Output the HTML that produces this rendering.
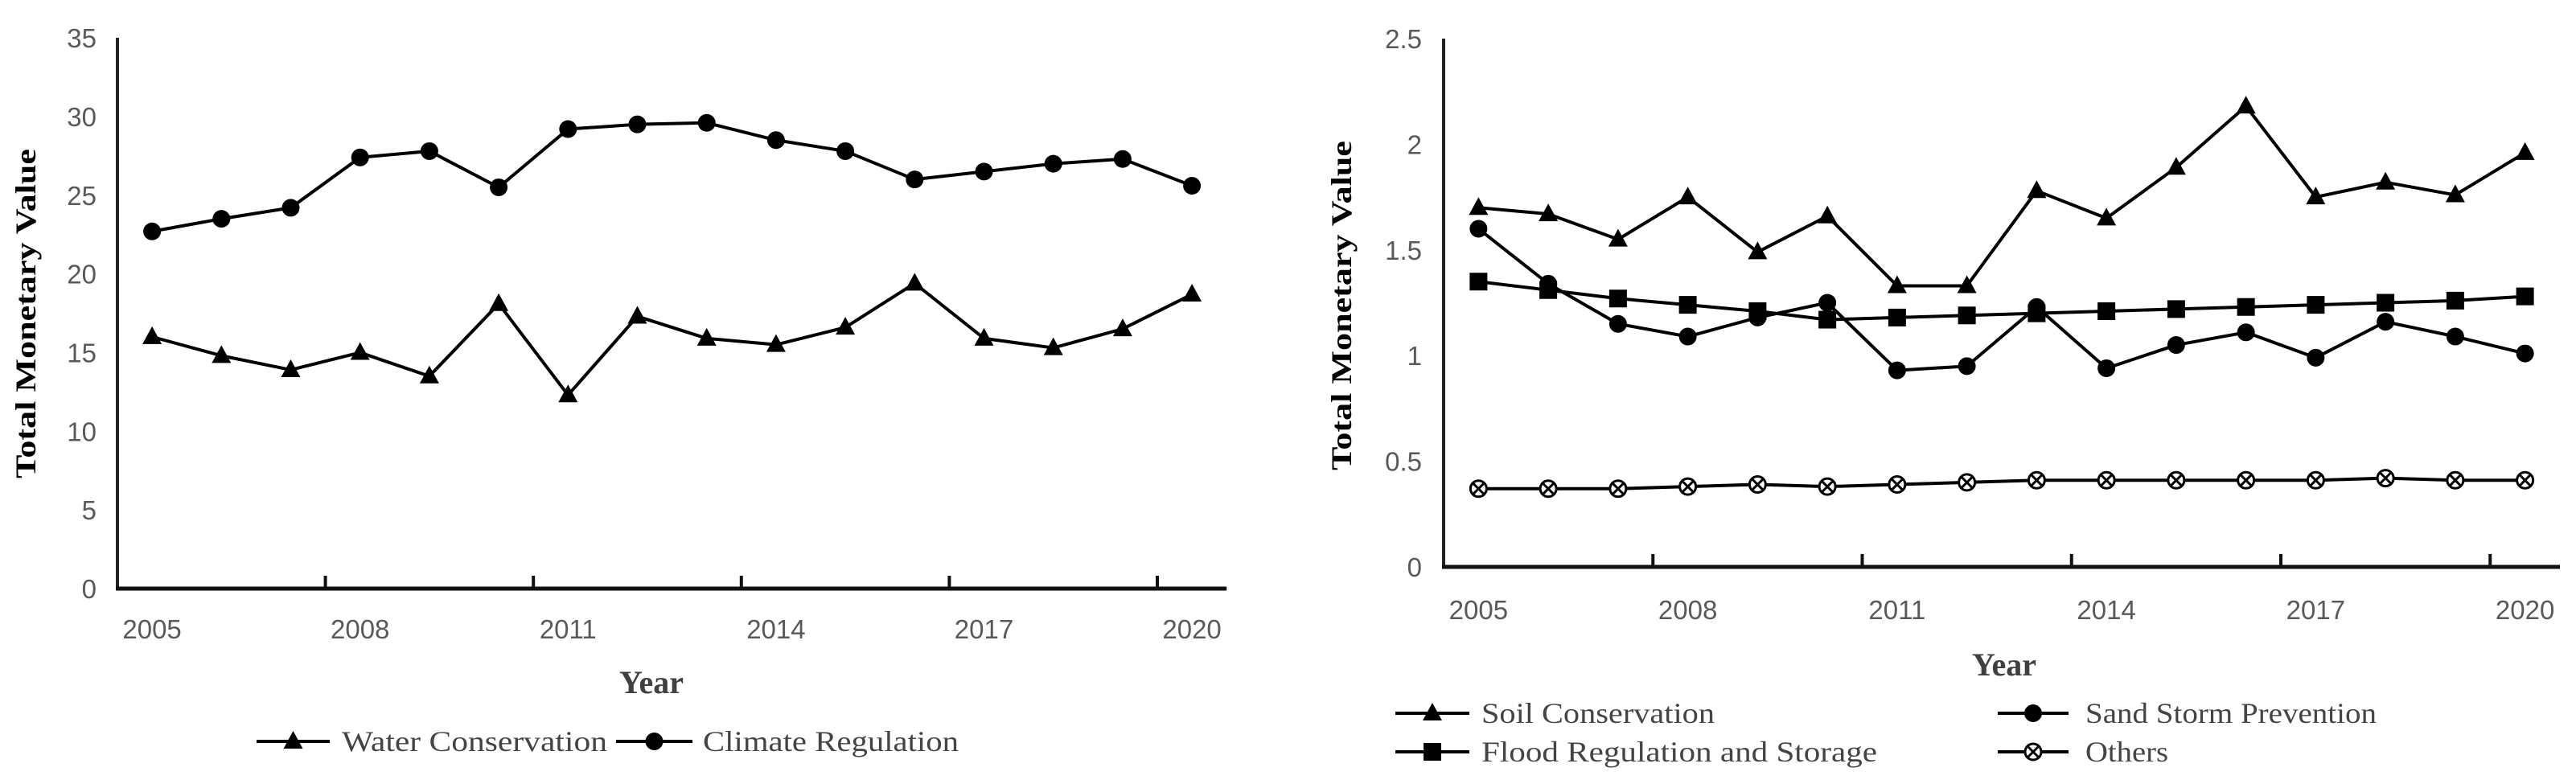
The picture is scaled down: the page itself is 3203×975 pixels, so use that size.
<!DOCTYPE html>
<html><head><meta charset="utf-8"><style>
body{margin:0;background:#fff;}
svg{display:block;}
</style></head><body>
<svg id="s" width="3203" height="975" xmlns="http://www.w3.org/2000/svg"></svg>
<script>
const years = ['2005','2006','2007','2008','2009','2010','2011','2012','2013','2014','2015','2016','2017','2018','2019','2020'];
const xTickLabels = ['2005','2008','2011','2014','2017','2020'];
const leftYTicks = [0,5,10,15,20,25,30,35];
const rightYTicks = ['0','0.5','1','1.5','2','2.5'];
const waterConservation = [16.0,14.8,13.9,15.0,13.5,18.1,12.3,17.3,15.9,15.5,16.6,19.4,15.9,15.3,16.5,18.7];
const climateRegulation = [22.7,23.5,24.2,27.4,27.8,25.5,29.2,29.5,29.6,28.5,27.8,26.0,26.5,27.0,27.3,25.6];
const soilConservation = [1.70,1.67,1.55,1.75,1.49,1.66,1.33,1.33,1.78,1.65,1.89,2.18,1.75,1.82,1.76,1.96];
const sandStorm = [1.60,1.34,1.15,1.09,1.18,1.25,0.93,0.95,1.23,0.94,1.05,1.11,0.99,1.16,1.09,1.01];
const floodRegulation = [1.35,1.31,1.27,1.24,1.21,1.17,1.18,1.19,1.20,1.21,1.22,1.23,1.24,1.25,1.26,1.28];
const others = [0.37,0.37,0.37,0.38,0.39,0.38,0.39,0.40,0.41,0.41,0.41,0.41,0.41,0.42,0.41,0.41];

const NS='http://www.w3.org/2000/svg';
const svg=document.getElementById('s');
function mk(tag,attrs,parent){const e=document.createElementNS(NS,tag);for(const k in attrs)e.setAttribute(k,attrs[k]);(parent||svg).appendChild(e);return e;}
function txt(str,attrs,parent){const e=mk('text',attrs,parent);e.textContent=str;return e;}

function marker(g,type,x,y){
  let m;
  if(type==='tri'){m=mk('polygon',{points:`${x},${y-13} ${x-12},${y+9} ${x+12},${y+9}`,fill:'#000'},g);}
  else if(type==='circ'){m=mk('circle',{cx:x,cy:y,r:11,fill:'#000'},g);}
  else if(type==='sq'){m=mk('rect',{x:x-11,y:y-11,width:22,height:22,fill:'#000'},g);}
  else {m=mk('g',{},g);
    mk('circle',{cx:x,cy:y,r:10,fill:'#fff',stroke:'#000','stroke-width':3},m);
    mk('path',{d:`M${x-7},${y-7}L${x+7},${y+7}M${x+7},${y-7}L${x-7},${y+7}`,stroke:'#000','stroke-width':3},m);}
  return m;
}

function chart(cfg){
  const g=mk('g',{});
  
  
  const X0=cfg.x0, cw=cfg.cw, Y0=cfg.y0, ppu=cfg.ppu;
  const xs=i=>X0+(i+0.5)*cw;
  const ys=v=>Y0-v*ppu;
  // y labels
  cfg.yTicks.forEach(t=>{
    const e=txt(String(t),{x:cfg.yLabX,y:ys(parseFloat(t))+12,'text-anchor':'end','font-family':'Liberation Sans, sans-serif','font-size':33,fill:'#595959'},g);
    
    
  });
  // axes
  const top=ys(parseFloat(cfg.yTicks[cfg.yTicks.length-1]));
  const ya=mk('line',{x1:X0,y1:top,x2:X0,y2:Y0+2,stroke:'#222','stroke-width':4},g);
  
  const xa=mk('line',{x1:X0-2,y1:Y0,x2:X0+16*cw,y2:Y0,stroke:'#111','stroke-width':5},g);
  
  for(let k=3;k<16;k+=3){
    const tk=mk('line',{x1:X0+k*cw,y1:Y0,x2:X0+k*cw,y2:Y0-16,stroke:'#111','stroke-width':4},g);
    
  }
  xTickLabels.forEach(lbl=>{
    const i=years.indexOf(lbl);
    const e=txt(lbl,{x:xs(i),y:cfg.xLabY,'text-anchor':'middle','font-family':'Liberation Sans, sans-serif','font-size':33,fill:'#595959'},g);
    
  });
  // titles
  const xt=txt('Year',{x:cfg.xTitleX,y:cfg.xTitleY,'text-anchor':'middle','font-family':'Liberation Serif, serif','font-size':40,'font-weight':'bold',fill:'#404040'},g);
  
  const yt=txt('Total Monetary Value',{x:0,y:0,'text-anchor':'middle','font-family':'Liberation Serif, serif','font-size':36,'font-weight':'bold',fill:'#000',textLength:410,lengthAdjust:'spacingAndGlyphs',transform:`translate(${cfg.yTitleX},${cfg.yTitleY}) rotate(-90)`},g);
  
  // series
  cfg.series.forEach(s=>{
    const sg=mk('g',{},g);
    
    
    const pts=s.data.map((v,i)=>xs(i)+','+ys(v)).join(' ');
    const pl=mk('polyline',{points:pts,fill:'none',stroke:'#000','stroke-width':4,'stroke-linejoin':'round'},sg);
    
    s.data.forEach((v,i)=>{
      const m=marker(sg,s.type,xs(i),ys(v));
      
      
    });
  });
  // legend
  cfg.legend.forEach(L=>{
    const lg=mk('g',{},g);
    
    
    mk('line',{x1:L.x1,y1:L.y,x2:L.x2,y2:L.y,stroke:'#000','stroke-width':4},lg);
    marker(lg,L.type,(L.x1+L.x2)/2,L.y);
    txt(L.label,{x:L.tx,y:L.y+12,'font-family':'Liberation Serif, serif','font-size':36,fill:'#444',textLength:L.tw,lengthAdjust:'spacingAndGlyphs'},lg);
  });
}

chart({name:'left-chart',x0:146,cw:86.2,y0:732,ppu:19.57,yTicks:leftYTicks,yLabX:120,xLabY:794,
  xTitleX:810,xTitleY:862,yTitleX:44,yTitleY:390,
  series:[{name:'water-conservation',data:waterConservation,type:'tri'},{name:'climate-regulation',data:climateRegulation,type:'circ'}],
  legend:[{x1:319,x2:410,y:922,type:'tri',label:'Water Conservation',tx:425,tw:330},
          {x1:766,x2:861,y:922,type:'circ',label:'Climate Regulation',tx:874,tw:318}]});

chart({name:'right-chart',x0:1795,cw:86.75,y0:705,ppu:262.8,yTicks:rightYTicks,yLabX:1768,xLabY:770,
  xTitleX:2492,xTitleY:840,yTitleX:1680,yTitleY:380,
  series:[{name:'soil-conservation',data:soilConservation,type:'tri'},{name:'sand-storm-prevention',data:sandStorm,type:'circ'},
          {name:'flood-regulation',data:floodRegulation,type:'sq'},{name:'others',data:others,type:'x'}],
  legend:[{x1:1735,x2:1827,y:887,type:'tri',label:'Soil Conservation',tx:1842,tw:290},
          {x1:2484,x2:2572,y:887,type:'circ',label:'Sand Storm Prevention',tx:2593,tw:362},
          {x1:1735,x2:1827,y:935,type:'sq',label:'Flood Regulation and Storage',tx:1842,tw:492},
          {x1:2484,x2:2572,y:935,type:'x',label:'Others',tx:2593,tw:103}]});
</script>
</body></html>
